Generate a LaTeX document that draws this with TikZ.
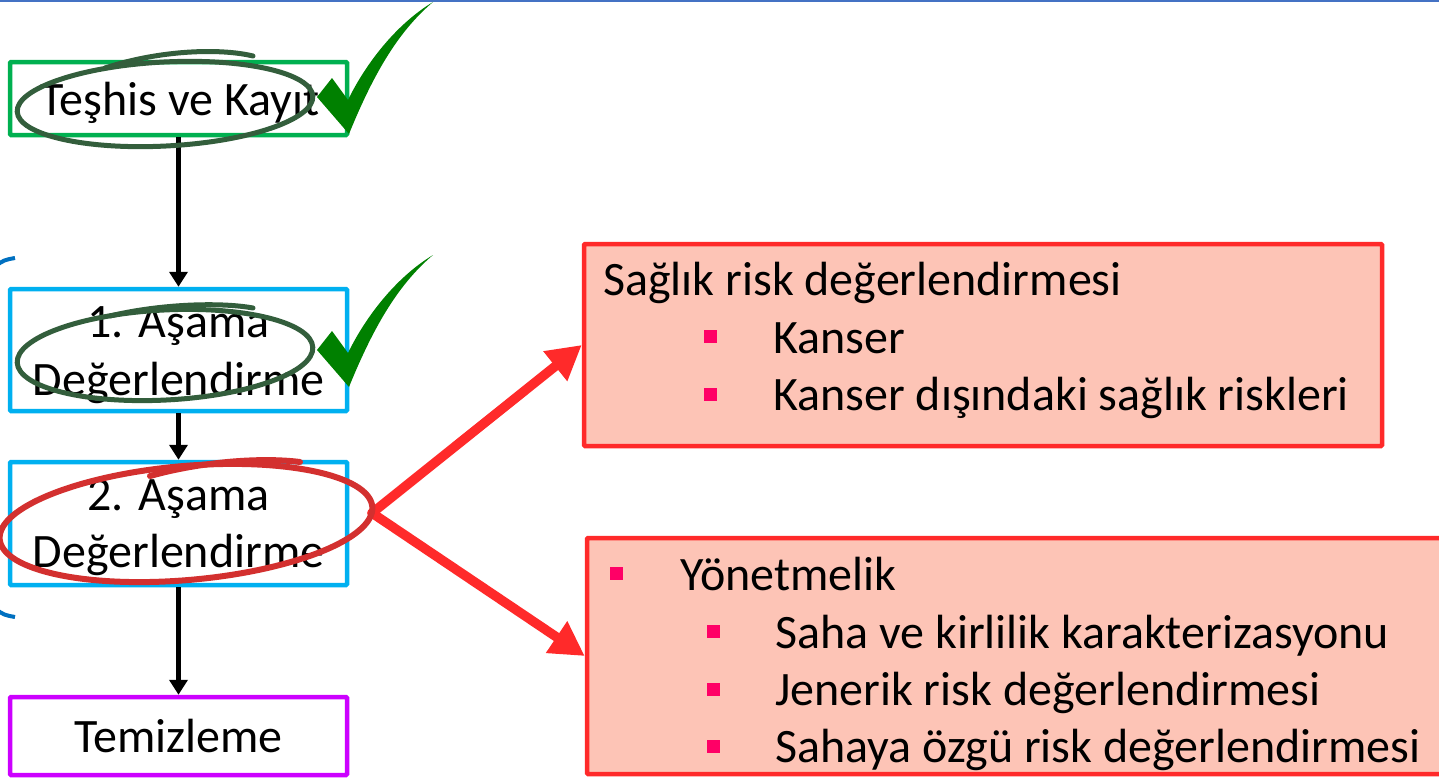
\documentclass[tikz,border=0pt]{standalone}
\usepackage{fontspec}
\setmainfont{Carlito}
\usetikzlibrary{arrows.meta}

\definecolor{boxgreen}{HTML}{00B050}
\definecolor{boxcyan}{HTML}{00B0F0}
\definecolor{boxviolet}{HTML}{CC00FF}
\definecolor{alertred}{HTML}{FF2A2A}
\definecolor{alertfill}{HTML}{FDC4B6}
\definecolor{bulletpink}{HTML}{FF0066}
\definecolor{tickgreen}{HTML}{008000}
\definecolor{pengreen}{HTML}{335E3C}
\definecolor{penred}{HTML}{D3302F}
\definecolor{rulerblue}{HTML}{4472C4}
\definecolor{bracketblue}{HTML}{0070C0}

\begin{document}
\begin{tikzpicture}[x=1pt,y=-1pt,
  stage/.style={draw, line width=4.5pt, minimum width=337pt, inner sep=0pt, rounded corners=1pt},
  flowtext/.style={anchor=base, inner sep=0pt, font=\fontsize{48}{57}\selectfont},
  infobox/.style={draw=alertred, fill=alertfill, line width=4.5pt, inner sep=0pt, rounded corners=1pt},
  infotext/.style={anchor=base west, inner sep=0pt, font=\fontsize{48}{57}\selectfont},
  bulletsq/.style={fill=bulletpink, minimum size=13pt, inner sep=0pt},
  flowarrow/.style={line width=4.5pt, -{Triangle[length=15pt,width=18pt]}},
  bigarrow/.style={alertred, line width=9.5pt, line cap=round, -{Triangle[length=34pt,width=36pt]}},
  pen/.style={line width=5pt, line cap=round},
  tick/.style={fill=tickgreen}]

\useasboundingbox (0,0) rectangle (1439,779);
\begin{scope}
\clip (0,0) rectangle (1439,779);

% thin rule along the top edge
\draw[rulerblue, line width=2.5pt] (0,1) -- (1439,1);

% brace ends peeking in from the left edge
\draw[bracketblue, line width=4pt] (-6,267) .. controls (4,260) .. (15,258);
\draw[bracketblue, line width=4pt] (-6,608) .. controls (4,615) .. (15,617);

% flow of stages
\node[stage, draw=boxgreen,  minimum height=73pt]  (b1) at (178.5,98.5) {};
\node[stage, draw=boxcyan,   minimum height=122pt] (b2) at (178.5,350) {};
\node[stage, draw=boxcyan,   minimum height=123pt] (b3) at (178.5,523.5) {};
\node[stage, draw=boxviolet, minimum height=78pt]  (b4) at (178.5,736) {};

\node[flowtext] (t1)  at (180,115) {Teşhis ve Kayıt};
\node[flowtext] (t2a) at (178.5,337) {1. Aşama};
\node[flowtext] (t2b) at (178.5,395) {Değerlendirme};
\node[flowtext] (t3a) at (178.5,510) {2. Aşama};
\node[flowtext] (t3b) at (178.5,567) {Değerlendirme};
\node[flowtext] (t4)  at (178.5,752) {Temizleme};

\draw[flowarrow] (b1.south) -- (b2.north);
\draw[flowarrow] (b2.south) -- (b3.north);
\draw[flowarrow] (b3.south) -- (b4.north);

% detail boxes
\node[infobox, minimum width=798pt, minimum height=202pt] (r1) at (983,345) {};
\node[infobox, minimum width=883pt, minimum height=236pt] (r2) at (1028.5,656) {};

\node[infotext] (s0) at (603,295) {Sağlık risk değerlendirmesi};
\node[bulletsq] (q1) at (710,336.5) {};
\node[infotext] (s1) at (773,353) {Kanser};
\node[bulletsq] (q2) at (710,394.5) {};
\node[infotext] (s2) at (773,410) {Kanser dışındaki sağlık riskleri};

\node[bulletsq] (q3) at (616.5,573.5) {};
\node[infotext] (y0) at (680,590) {Yönetmelik};
\node[bulletsq] (q4) at (713.5,631.5) {};
\node[infotext] (y1) at (775,648) {Saha ve kirlilik karakterizasyonu};
\node[bulletsq] (q5) at (713.5,689) {};
\node[infotext] (y2) at (775,705) {Jenerik risk değerlendirmesi};
\node[bulletsq] (q6) at (713.5,746) {};
\node[infotext] (y3) at (775,762) {Sahaya özgü risk değerlendirmesi};

% branching arrows from the second stage
\coordinate (fork) at (372,513);
\draw[bigarrow] (fork) -- (r1.west);
\draw[bigarrow] (fork) -- (r2.west);

% hand-drawn circles
\draw[pen, pengreen, rotate around={3:(165,104)}] (165,104) ellipse [x radius=148pt, y radius=42pt];
\draw[pen, pengreen] (105,68) .. controls (160,50) and (220,48) .. (253,56);
\draw[pen, pengreen, rotate around={3:(165,355)}] (165,355) ellipse [x radius=148pt, y radius=45pt];
\draw[pen, pengreen] (110,316) .. controls (160,304) and (220,302) .. (253,308);
\draw[pen, penred, line width=6pt, rotate around={5:(186,523)}] (186,523) ellipse [x radius=187pt, y radius=57pt];
\draw[pen, penred, line width=6pt] (150,476) .. controls (200,462) and (260,457) .. (300,462);

% check marks
\fill[tick] (317,97) -- (332,78) -- (348,100)
  .. controls (365,65) and (395,25) .. (433,2)
  .. controls (400,30) and (375,70) .. (349,134) -- cycle;
\fill[tick] (317,350) -- (332,331) -- (348,353)
  .. controls (365,318) and (395,278) .. (433,255)
  .. controls (400,283) and (375,323) .. (349,387) -- cycle;
\end{scope}
\end{tikzpicture}
\end{document}
